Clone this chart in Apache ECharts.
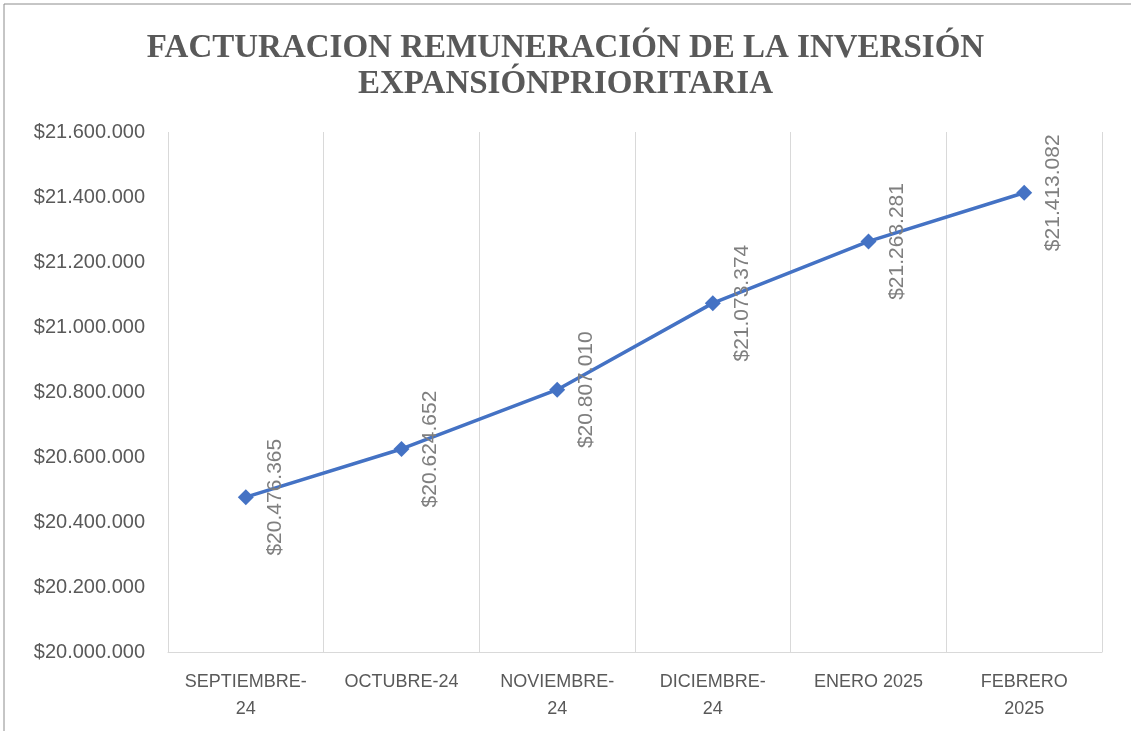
<!DOCTYPE html>
<html>
<head>
<meta charset="utf-8">
<script src="https://cdn.jsdelivr.net/npm/echarts@6/dist/echarts.min.js"></script>
<style>
  html, body { margin: 0; padding: 0; background: #fff; }
  #main { width: 1131px; height: 731px; }
</style>
</head>
<body>
<div id="main"></div>
<script>
var titulo = 'FACTURACION REMUNERACIÓN DE LA INVERSIÓN\nEXPANSIÓNPRIORITARIA'
var meses = ['SEPTIEMBRE-\n24', 'OCTUBRE-24', 'NOVIEMBRE-\n24', 'DICIEMBRE-\n24', 'ENERO 2025', 'FEBRERO\n2025']
var facturacion = [20476365, 20624652, 20807010, 21073374, 21263281, 21413082]
var yMin = 20000000
var yMax = 21600000
var yPaso = 200000

function pesos(v) {
  return '$' + String(Math.round(v)).replace(/\B(?=(\d{3})+(?!\d))/g, '.')
}

var myChart = echarts.init(document.getElementById('main'))

myChart.setOption({
  animation: false,
  title: {
    text: titulo,
    left: 'center',
    top: 25,
    textStyle: {
      fontFamily: 'Liberation Serif',
      fontWeight: 'bold',
      fontSize: 33,
      lineHeight: 36,
      color: '#595959'
    }
  },
  graphic: [
    {
      type: 'rect',
      shape: { x: 4, y: 4, width: 1200, height: 1000 },
      style: { fill: 'none', stroke: '#8c8c8c', lineWidth: 1 },
      silent: true
    }
  ],
  grid: {
    left: 168,
    right: 29,
    top: 132,
    bottom: 79
  },
  xAxis: {
    type: 'category',
    data: meses,
    boundaryGap: true,
    axisLine: { show: true, lineStyle: { color: '#d9d9d9', width: 1 } },
    axisTick: { show: false },
    splitLine: { show: true, lineStyle: { color: '#d9d9d9', width: 1 } },
    axisLabel: {
      interval: 0,
      margin: 17,
      fontFamily: 'Liberation Sans',
      fontSize: 18,
      lineHeight: 27,
      color: '#595959'
    }
  },
  yAxis: {
    type: 'value',
    min: yMin,
    max: yMax,
    interval: yPaso,
    axisLine: { show: false },
    axisTick: { show: false },
    splitLine: { show: false },
    axisLabel: {
      margin: 23,
      fontFamily: 'Liberation Sans',
      fontSize: 20,
      color: '#595959',
      formatter: pesos
    }
  },
  series: [
    {
      type: 'line',
      data: facturacion,
      symbol: 'diamond',
      symbolSize: 16,
      itemStyle: { color: '#4472c4' },
      lineStyle: { color: '#4472c4', width: 3.5 },
      label: {
        show: true,
        position: 'right',
        distance: 21,
        rotate: 90,
        align: 'center',
        verticalAlign: 'middle',
        fontFamily: 'Liberation Sans',
        fontSize: 21,
        color: '#7f7f7f',
        formatter: function (p) { return pesos(p.value) }
      }
    }
  ]
})
</script>
</body>
</html>
